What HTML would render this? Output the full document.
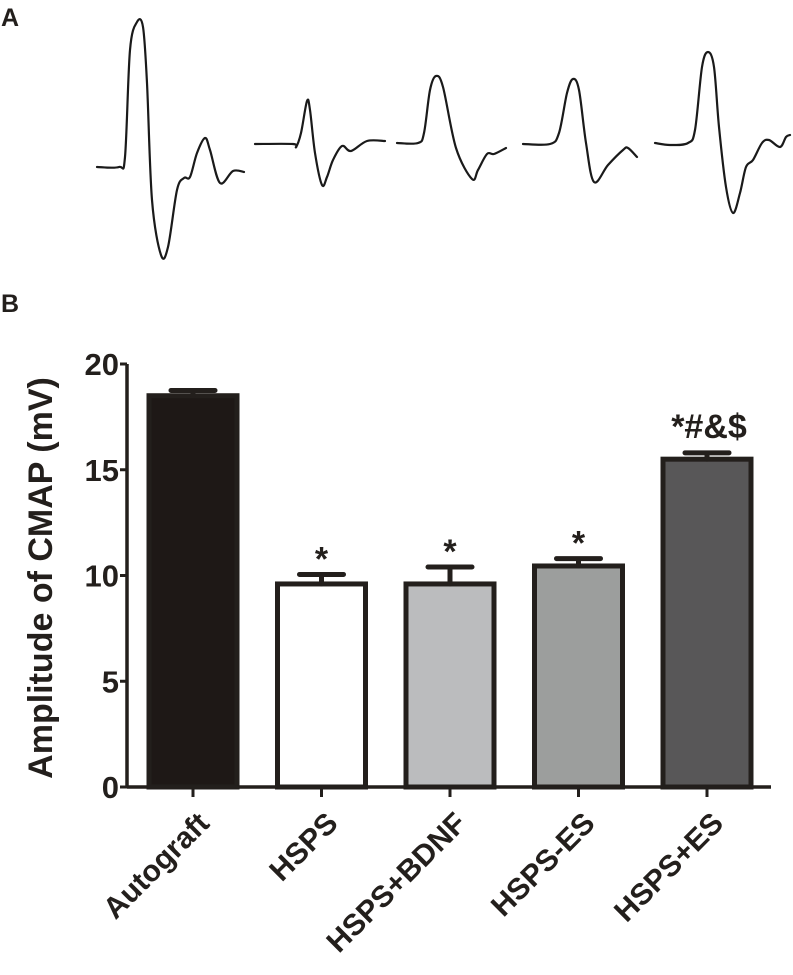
<!DOCTYPE html>
<html><head><meta charset="utf-8"><style>
html,body{margin:0;padding:0;background:#fff;}
svg{display:block;font-family:"Liberation Sans",Arial,sans-serif;}
</style></head><body>
<svg id="fig" width="793" height="975" viewBox="0 0 793 975">
<text x="1" y="26" font-size="25" font-weight="bold" fill="#231f1c">A</text>
<text x="1" y="312" font-size="25" font-weight="bold" fill="#231f1c">B</text>
<g id="traces" fill="none" stroke="#1a1a1a" stroke-width="2.2" stroke-linejoin="round" stroke-linecap="round">
<polyline points="97,167 119,167 125,157 130,50 137,22 143,27 147,83 152,200 161,255 168,247 177,190 184,178 190,177 197,153 205,138 210,150 220,183 233,171 244,172"/>
<polyline points="255,144 293,144 296,147 301,133 307,101 310,110 315,153 322,185 327,177 333,160 342,146 351,151 367,141 385,141"/>
<polyline points="397,143 418,143 424,133 430,90 436,76 443,87 456,148 472,179 478,170 487,154 494,154 506,148"/>
<polyline points="523,144 550,144 559,133 567,93 573,79 579,90 586,143 594,182 608,165 623,150 628,148 637,157"/>
<polyline points="655,143 670,145 688,143 695,130 702,67 708,52 714,67 719,127 726,187 733,213 740,193 746,167 753,160 762,143 769,140 780,147 786,137 790,135"/>
</g>
<g id="chart"></g>
</svg>
<script>
const categories = ["Autograft","HSPS","HSPS+BDNF","HSPS-ES","HSPS+ES"];
const means = [18.5, 9.6, 9.6, 10.45, 15.5];
const errors = [0.25, 0.45, 0.8, 0.35, 0.3];
const annotations = ["", "*", "*", "*", "*#&$"];
const yTicks = [0, 5, 10, 15, 20];
const fills = ["#1e1816","#ffffff","#bbbcbe","#9c9e9d","#585758"];

const NS = "http://www.w3.org/2000/svg";
document.querySelectorAll("#traces polyline").forEach(pl => {
  const p = pl.getAttribute("points").trim().split(/\s+/).map(s => s.split(",").map(Number));
  let d = `M${p[0][0]},${p[0][1]}`;
  for (let i = 0; i < p.length - 1; i++) {
    const p0 = p[Math.max(0, i-1)], p1 = p[i], p2 = p[i+1], p3 = p[Math.min(p.length-1, i+2)];
    const c1 = [p1[0] + (p2[0]-p0[0])/6, p1[1] + (p2[1]-p0[1])/6];
    const c2 = [p2[0] - (p3[0]-p1[0])/6, p2[1] - (p3[1]-p1[1])/6];
    d += ` C${c1[0]},${c1[1]} ${c2[0]},${c2[1]} ${p2[0]},${p2[1]}`;
  }
  const path = document.createElementNS(NS, "path");
  path.setAttribute("d", d);
  
  
  pl.parentNode.replaceChild(path, pl);
});

const g = document.getElementById("chart");
const y = v => 787 - v * 21.15;
const x = i => 193 + i * 128.5;
const barW = 88;
function mk(tag, attrs, parent) {
  const e = document.createElementNS(NS, tag);
  for (const k in attrs) e.setAttribute(k, attrs[k]);
  (parent || g).appendChild(e);
  return e;
}
const dark = "#231f1c";
categories.forEach((c, i) => {
  const cx = x(i);
  const top = y(means[i]);
  const bar = mk("rect", {x: cx - barW/2, y: top, width: barW, height: y(0) - top, fill: fills[i], stroke: dark, "stroke-width": 5});
  
  
  const ey = y(means[i] + errors[i]);
  const eb = mk("path", {d: `M${cx},${top} V${ey} M${cx-22},${ey} H${cx+22}`, stroke: dark, "stroke-width": 5, "stroke-linecap": "round", fill: "none"});
  
  
  if (annotations[i]) {
    const big = i === 4;
    const t = mk("text", {x: cx + (big ? 2 : 0), y: ey - (big ? 15 : 4), "text-anchor": "middle", "font-size": 34, "font-weight": "bold", fill: dark});
    t.textContent = annotations[i];
    
    
  }
  const tk = mk("line", {x1: cx, x2: cx, y1: y(0), y2: y(0) + 10, stroke: dark, "stroke-width": 3});
  
  
  const lb = mk("text", {transform: `translate(${cx + 18},${y(0) + 38}) rotate(-45)`, "text-anchor": "end", "font-size": 30, "font-weight": "bold", fill: dark});
  lb.textContent = c;
  
  
});
const ya = mk("line", {x1: 127, x2: 127, y1: y(20), y2: y(0) + 1.5, stroke: dark, "stroke-width": 3.5});


const xa = mk("line", {x1: 127, x2: 771, y1: y(0), y2: y(0), stroke: dark, "stroke-width": 3.5});


yTicks.forEach(v => {
  const t = mk("line", {x1: 120, x2: 127, y1: y(v), y2: y(v), stroke: dark, "stroke-width": 3});
  
  
  const l = mk("text", {x: 119, y: y(v) + 11, "text-anchor": "end", "font-size": 31, "font-weight": "bold", fill: dark});
  l.textContent = v;
  
  
});
const yt = mk("text", {transform: "translate(52,578) rotate(-90)", "text-anchor": "middle", "font-size": 34, "font-weight": "bold", fill: dark});
yt.textContent = "Amplitude of CMAP (mV)";


</script>
</body></html>
